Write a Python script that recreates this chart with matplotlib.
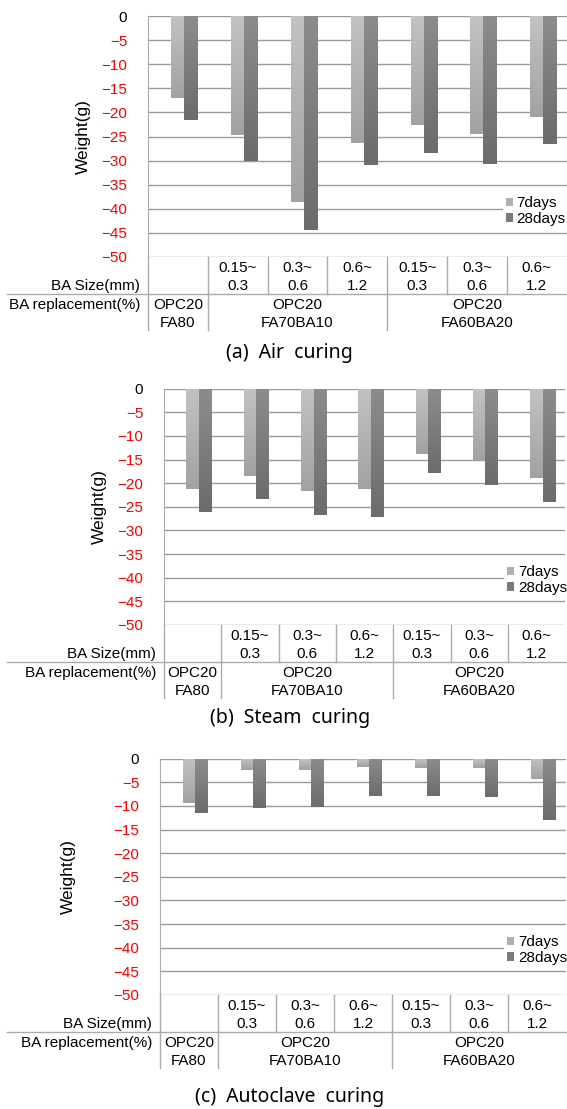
import numpy as np
import matplotlib
matplotlib.use("Agg")
import matplotlib.pyplot as plt
from matplotlib.colors import LinearSegmentedColormap
from matplotlib.lines import Line2D

# data (weight change, g)
size_labels = ["", "0.15~\n0.3", "0.3~\n0.6", "0.6~\n1.2", "0.15~\n0.3", "0.3~\n0.6", "0.6~\n1.2"]
mix_labels = ["OPC20\nFA80", "OPC20\nFA70BA10", "OPC20\nFA60BA20"]
mix_span = [(0, 1), (1, 4), (4, 7)]
series_names = ["7days", "28days"]
captions = ["(a)  Air  curing", "(b)  Steam  curing", "(c)  Autoclave  curing"]

air_7d = [-17.1, -24.6, -38.6, -26.3, -22.7, -24.4, -20.9]
air_28d = [-21.5, -30.1, -44.3, -31.0, -28.4, -30.8, -26.6]
steam_7d = [-21.2, -18.5, -21.6, -21.3, -13.9, -15.3, -18.8]
steam_28d = [-26.0, -23.3, -26.8, -27.2, -17.9, -20.4, -23.9]
auto_7d = [-9.4, -2.4, -2.3, -1.7, -1.9, -1.9, -4.4]
auto_28d = [-11.4, -10.5, -10.2, -7.9, -7.9, -8.2, -13.0]

yticks = [0, -5, -10, -15, -20, -25, -30, -35, -40, -45, -50]

W, H = 567, 1109
GRID = "#9a9a9a"
TBL = "#ababab"
FONT = "Liberation Sans"
FS = 11

# panel geometry in pixels: left, group width, top (y=0), bottom (y=-50), ylabel x, caption y
panels = [
    dict(v7=air_7d, v28=air_28d, left=148, gw=59.8, top=16, bot=257, ylx=83, capy=353, capx=289),
    dict(v7=steam_7d, v28=steam_28d, left=164, gw=57.3, top=388.7, bot=625, ylx=99, capy=718, capx=290),
    dict(v7=auto_7d, v28=auto_28d, left=160, gw=58.0, top=758.7, bot=995, ylx=68, capy=1097, capx=290),
]

fig = plt.figure(figsize=(W / 100, H / 100), dpi=100)


def fx(px):
    return px / W


def fy(py):
    return 1 - py / H


def hline(x0, x1, y, color=TBL):
    fig.add_artist(Line2D([fx(x0), fx(x1)], [fy(y), fy(y)], color=color, lw=1.0,
                          transform=fig.transFigure))


def vline(x, y0, y1, color=TBL):
    fig.add_artist(Line2D([fx(x), fx(x)], [fy(y0), fy(y1)], color=color, lw=1.0,
                          transform=fig.transFigure))


def shade(ax, bars, top, bottom):
    cmap = LinearSegmentedColormap.from_list("g", [top, bottom])
    grad = np.linspace(0, 1, 64).reshape(-1, 1)
    for b in bars:
        x0, w, y0, h = b.get_x(), b.get_width(), b.get_y(), b.get_height()
        im = ax.imshow(grad, cmap=cmap, extent=[x0, x0 + w, y0 + h, y0],
                       aspect="auto", interpolation="bilinear", zorder=2, origin="upper")
        im.set_clip_path(b)


for k, p in enumerate(panels):
    left, gw, top, bot = p["left"], p["gw"], p["top"], p["bot"]
    ax = fig.add_axes([fx(left), fy(bot), fx(7 * gw), (bot - top) / H])
    x = np.arange(7) + 0.61
    bw = 0.22
    b7 = ax.bar(x - bw / 2, p["v7"], bw, color="#b0b0b0", label=series_names[0], zorder=2)
    b28 = ax.bar(x + bw / 2, p["v28"], bw, color="#7a7a7a", label=series_names[1], zorder=2)
    shade(ax, b7, "#c2c2c2", "#a2a2a2")
    shade(ax, b28, "#8c8c8c", "#6c6c6c")

    ax.set_xlim(0, 7)
    ax.set_ylim(-50, 0)
    ax.set_yticks(yticks)
    ax.set_yticklabels([str(t).replace("-", "\u2212") for t in yticks], family=FONT, fontsize=FS)
    for t, lab in zip(yticks, ax.get_yticklabels()):
        lab.set_color("black" if t == 0 else "#ff0000")
    ax.tick_params(axis="y", length=0, pad=15)
    ax.set_xticks([])
    ax.grid(axis="y", color=GRID, lw=1.0)
    ax.set_axisbelow(True)
    for s in ["top", "right", "bottom"]:
        ax.spines[s].set_visible(False)
    ax.spines["left"].set_color(TBL)

    fig.text(fx(p["ylx"]), fy((top + bot) / 2), "Weight(g)", rotation=90, ha="center",
             va="center", family=FONT, fontsize=12.5)

    leg = ax.legend(loc="center left", bbox_to_anchor=(0.848, 0.19),
                    prop={"family": FONT, "size": FS}, handlelength=0.45, handleheight=0.45,
                    handletextpad=0.25, labelspacing=0.1, borderpad=0.2,
                    borderaxespad=0, frameon=True, fancybox=False)
    leg.get_frame().set_facecolor("white")
    leg.get_frame().set_edgecolor("none")
    leg.get_frame().set_alpha(1)

    # data table under the axis
    r1a, r1b, rl, r2a, r2b, rend = bot + 11, bot + 29, bot + 37, bot + 48, bot + 66, bot + 73
    hline(7, W, rl)
    vline(left, bot, rend)
    for i in range(1, 7):
        vline(left + i * gw, bot, rl)
    for i in (1, 4):
        vline(left + i * gw, rl, rend)
    for i, lab in enumerate(size_labels):
        if lab:
            a, b = lab.split("\n")
            cx = left + (i + 0.5) * gw
            fig.text(fx(cx), fy(r1a), a, ha="center", va="center", family=FONT, fontsize=FS)
            fig.text(fx(cx), fy(r1b), b, ha="center", va="center", family=FONT, fontsize=FS)
    for lab, (i0, i1) in zip(mix_labels, mix_span):
        a, b = lab.split("\n")
        cx = left + (i0 + i1) / 2 * gw
        fig.text(fx(cx), fy(r2a), a, ha="center", va="center", family=FONT, fontsize=FS)
        fig.text(fx(cx), fy(r2b), b, ha="center", va="center", family=FONT, fontsize=FS)
    fig.text(fx(left - 8), fy(r1b), "BA Size(mm)", ha="right", va="center", family=FONT, fontsize=FS)
    fig.text(fx(left - 8), fy(r2a), "BA replacement(%)", ha="right", va="center", family=FONT, fontsize=FS)

    fig.text(fx(p["capx"]), fy(p["capy"]), captions[k], ha="center", va="center",
             family="Noto Sans", fontsize=14)

fig.savefig("out.png", dpi=100, facecolor="white")
